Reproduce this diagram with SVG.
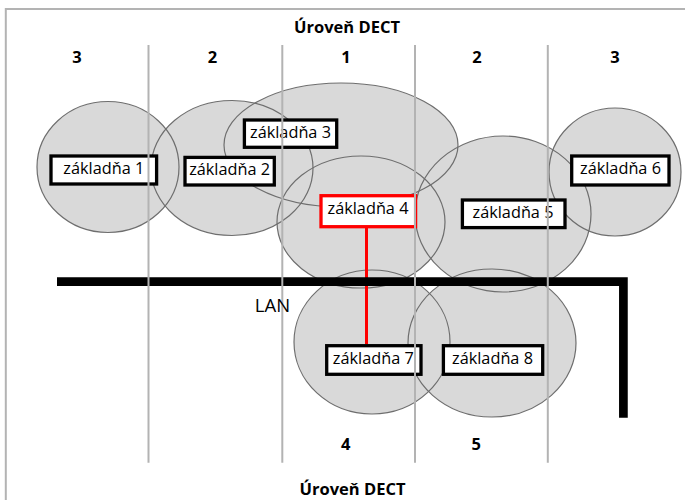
<svg xmlns="http://www.w3.org/2000/svg" width="685" height="500" viewBox="0 0 685 500">
<style>
.cov{fill:#d9d9d9;stroke:none}
.covl{fill:none;stroke:#6e6e6e;stroke-width:1.2}
.box{fill:#fff;stroke:#000;stroke-width:3.3}
.box4{fill:#fff;stroke:#ff0000;stroke-width:3.3}
.lbl{font-family:"Open Sans","Liberation Sans",sans-serif;font-size:16.3px;fill:#000;text-anchor:middle}
.hd{font-family:"Open Sans","Liberation Sans",sans-serif;font-size:16.5px;font-weight:bold;fill:#000;text-anchor:middle}
.num{font-family:"Open Sans","Liberation Sans",sans-serif;font-size:16.5px;font-weight:bold;fill:#000;text-anchor:middle}
.grid{stroke:#b3b3b3;stroke-width:2}
</style>
<rect x="5.8" y="9" width="700" height="520" fill="#fff" stroke="#b3b3b3" stroke-width="2"/>
<g id="coverage">
<ellipse class="cov" cx="108" cy="167" rx="71" ry="65.5"/>
<ellipse class="cov" cx="232" cy="168" rx="81" ry="67.5"/>
<ellipse class="cov" cx="341" cy="145" rx="117" ry="62"/>
<ellipse class="cov" cx="361" cy="222" rx="84" ry="66"/>
<ellipse class="cov" cx="503" cy="214" rx="88" ry="78"/>
<ellipse class="cov" cx="615" cy="172" rx="66" ry="64"/>
<ellipse class="cov" cx="372" cy="342" rx="78" ry="72"/>
<ellipse class="cov" cx="492" cy="343" rx="84" ry="74"/>
<ellipse class="covl" cx="108" cy="167" rx="71" ry="65.5"/>
<ellipse class="covl" cx="232" cy="168" rx="81" ry="67.5"/>
<ellipse class="covl" cx="341" cy="145" rx="117" ry="62"/>
<ellipse class="covl" cx="361" cy="222" rx="84" ry="66"/>
<ellipse class="covl" cx="503" cy="214" rx="88" ry="78"/>
<ellipse class="covl" cx="615" cy="172" rx="66" ry="64"/>
<ellipse class="covl" cx="372" cy="342" rx="78" ry="72"/>
<ellipse class="covl" cx="492" cy="343" rx="84" ry="74"/>
</g>
<g id="connectors">
<line x1="366.5" y1="228" x2="366.5" y2="344" stroke="#ff0000" stroke-width="3"/>
<path d="M57,281.7 H623.4 V417.7" fill="none" stroke="#000" stroke-width="8.7" stroke-linejoin="miter"/>
</g>
<g id="base1"><rect class="box" x="51" y="156" width="105.6" height="28"/><text class="lbl" x="103.8" y="173.8">základňa 1</text></g>
<g id="base2"><rect class="box" x="185" y="157.4" width="89.3" height="27.6"/><text class="lbl" x="229.6" y="175.2">základňa 2</text></g>
<g id="base3"><rect class="box" x="244.4" y="120" width="92.3" height="27.3"/><text class="lbl" x="290.5" y="137.8">základňa 3</text></g>
<g id="base4"><rect class="box4" x="321" y="195.7" width="94.6" height="31"/><text class="lbl" x="368" y="213.5">základňa 4</text></g>
<g id="base5"><rect class="box" x="462.4" y="200" width="102.6" height="27.6"/><text class="lbl" x="513" y="217.8">základňa 5</text></g>
<g id="base6"><rect class="box" x="571.7" y="156" width="97.3" height="29"/><text class="lbl" x="620.5" y="173.8">základňa 6</text></g>
<g id="base7"><rect class="box" x="326.7" y="345.7" width="94.3" height="28.6"/><text class="lbl" x="373.3" y="363.5">základňa 7</text></g>
<g id="base8"><rect class="box" x="443.4" y="345.7" width="99.3" height="28.6"/><text class="lbl" x="492.5" y="363.5">základňa 8</text></g>
<g id="grid">
<line class="grid" x1="148.5" y1="45" x2="148.5" y2="462.7"/>
<line class="grid" x1="282.3" y1="45" x2="282.3" y2="462.7"/>
<line class="grid" x1="415" y1="45" x2="415" y2="462.7"/>
<line class="grid" x1="547.8" y1="45" x2="547.8" y2="462.7"/>
</g>
<text x="272.5" y="312" font-family="'Open Sans','Liberation Sans',sans-serif" font-size="18.5" text-anchor="middle" fill="#000">LAN</text>
<text class="hd" x="347" y="32.5">Úroveň DECT</text>
<text class="hd" x="352.5" y="494.5">Úroveň DECT</text>
<text class="num" x="77" y="62.5">3</text>
<text class="num" x="212.5" y="62.5">2</text>
<text class="num" x="346" y="62.5">1</text>
<text class="num" x="477" y="62.5">2</text>
<text class="num" x="615" y="62.5">3</text>
<text class="num" x="345.7" y="450">4</text>
<text class="num" x="476.3" y="450">5</text>
</svg>
